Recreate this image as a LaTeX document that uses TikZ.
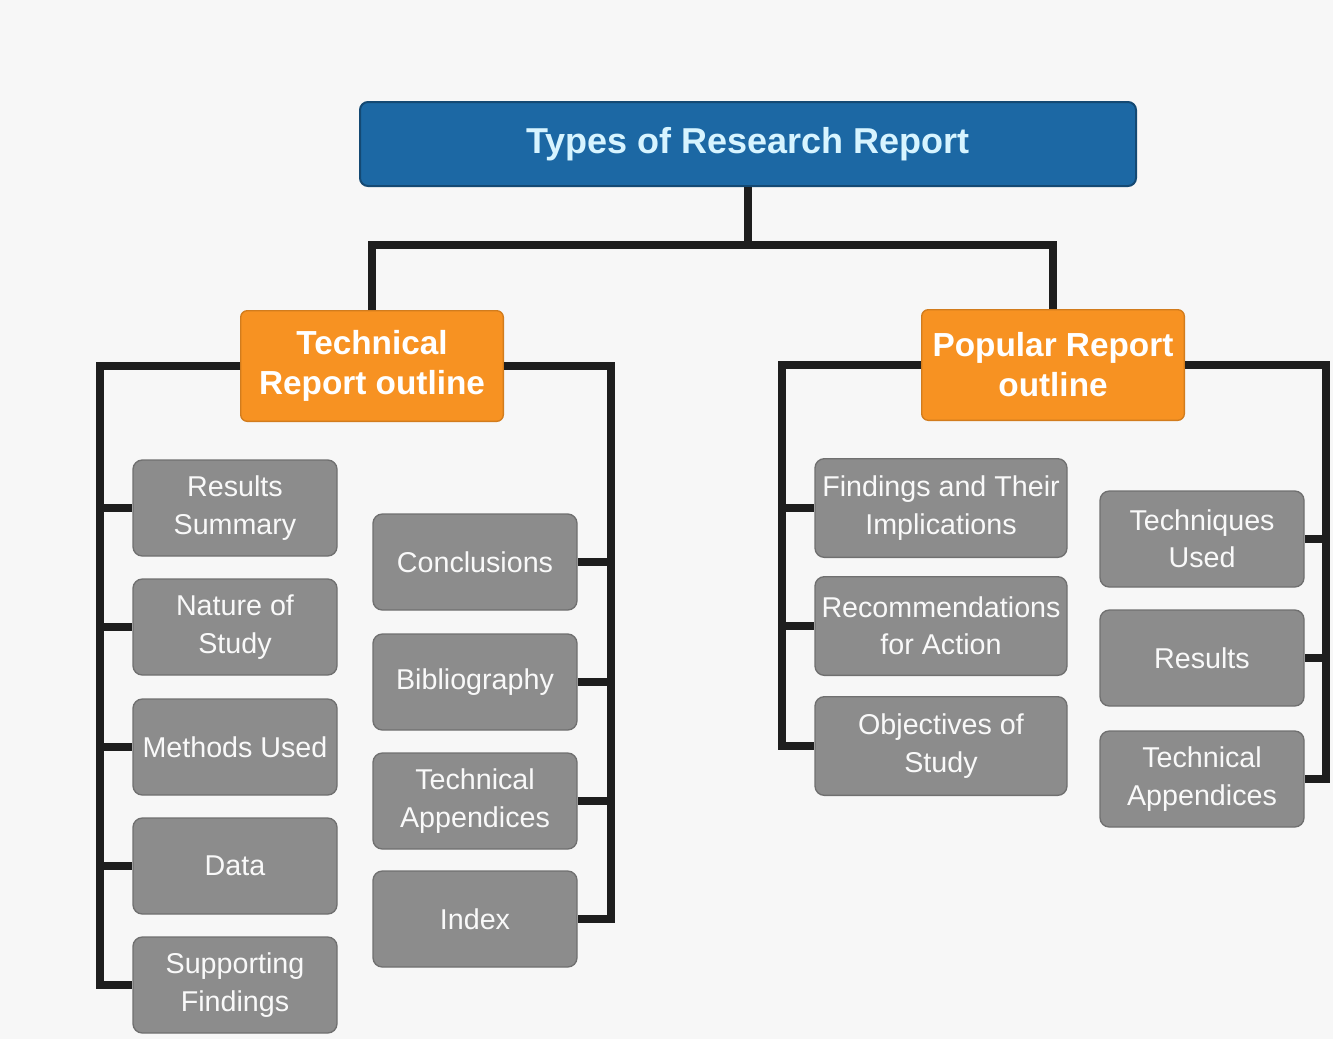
\documentclass[tikz,border=0pt]{standalone}
\usepackage{fontspec}
\setmainfont{Liberation Sans}
\definecolor{bgc}{RGB}{247,247,247}
\definecolor{titleblue}{RGB}{28,104,164}
\definecolor{titletext}{RGB}{215,244,255}
\definecolor{orangebox}{RGB}{247,146,34}
\definecolor{graybox}{RGB}{140,140,140}
\definecolor{linec}{RGB}{30,30,30}

\begin{document}
\begin{tikzpicture}[x=0.75pt,y=-0.75pt,
    title/.style={rectangle,rounded corners=6pt,draw=titleblue!70!black,line width=1.5pt,fill=titleblue,text=titletext,minimum width=582pt,minimum height=63pt,font=\fontsize{27}{30}\selectfont\bfseries},
    outline/.style={rectangle,rounded corners=5pt,draw=orangebox!85!black,line width=1pt,fill=orangebox,text=white,minimum width=197pt,minimum height=83pt,inner sep=1pt,align=center,font=\fontsize{25}{30}\selectfont\bfseries},
    item/.style={rectangle,rounded corners=7pt,draw=graybox!80!black,line width=1pt,fill=graybox,text=white!95!gray,minimum width=153pt,minimum height=72pt,inner sep=1pt,align=center,font=\fontsize{21.5}{28}\selectfont},
    wide/.style={item,minimum width=189pt,minimum height=74pt},
    link/.style={draw=linec,line width=6pt}]
    \fill[bgc] (0,0) rectangle (1333,1039);

    \node[title] (types) at (748,144) {Types of Research Report};
    \node[outline] (tech) at (372,366) {Technical\\Report outline};
    \node[outline] (pop) at (1053,365) {Popular Report\\outline};

    % technical report, left column
    \node[item] (rs) at (235,508) {Results\\Summary};
    \node[item] (ns) at (235,627) {Nature of\\Study};
    \node[item] (mu) at (235,747) {Methods Used};
    \node[item] (da) at (235,866) {Data};
    \node[item] (sf) at (235,985) {Supporting\\Findings};
    % technical report, right column
    \node[item] (co) at (475,562) {Conclusions};
    \node[item] (bi) at (475,682) {Bibliography};
    \node[item] (ta) at (475,801) {Technical\\Appendices};
    \node[item] (ix) at (475,919) {Index};

    % popular report, left column
    \node[wide] (fi) at (941,508) {Findings and Their\\Implications};
    \node[wide] (ra) at (941,626) {Recommendations\\for Action};
    \node[wide] (os) at (941,746) {Objectives of\\Study};
    % popular report, right column
    \node[item] (tu) at (1202,539) {Techniques\\Used};
    \node[item] (re) at (1202,658) {Results};
    \node[item] (pa) at (1202,779) {Technical\\Appendices};

    % connectors
    \draw[link] (types.south) -- ++(0,58) coordinate (tm);
    \draw[link] (tech.north) |- (tm) -| (pop.north);

    \draw[link] (tech.west) -- ++(-140,0) coordinate (tl) |- (sf.west);
    \foreach \n in {rs,ns,mu,da} \draw[link] (tl |- \n.west) -- (\n.west);
    \draw[link] (tech.east) -- ++(107,0) coordinate (tr) |- (ix.east);
    \foreach \n in {co,bi,ta} \draw[link] (tr |- \n.east) -- (\n.east);

    \draw[link] (pop.west) -- ++(-139,0) coordinate (pl) |- (os.west);
    \foreach \n in {fi,ra} \draw[link] (pl |- \n.west) -- (\n.west);
    \draw[link] (pop.east) -- ++(141,0) coordinate (pr) |- (pa.east);
    \foreach \n in {tu,re} \draw[link] (pr |- \n.east) -- (\n.east);

    \useasboundingbox (0,0) rectangle (1333,1039);
\end{tikzpicture}
\end{document}
